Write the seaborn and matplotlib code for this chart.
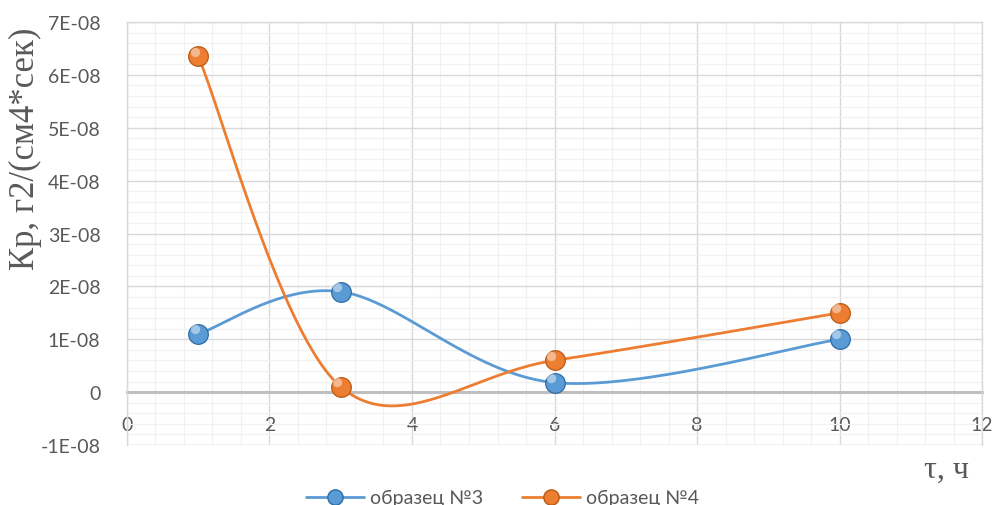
import numpy as np
import pandas as pd
import matplotlib
matplotlib.use("Agg")
import matplotlib.pyplot as plt
import seaborn as sns
from matplotlib.ticker import MultipleLocator, FuncFormatter
from matplotlib.lines import Line2D

# Measured data
hours = [1, 3, 6, 10]
sample3 = [1.1e-08, 1.9e-08, 0.18e-08, 1.0e-08]
sample4 = [6.35e-08, 0.1e-08, 0.6e-08, 1.5e-08]
series_names = ["образец №3", "образец №4"]
colors = ["#5B9BD5", "#ED7D31"]
dark_colors = ["#2E6DA4", "#B85A14"]


def smooth_curve(xs, ys, n=60):
    """Cubic Bezier smoothing through the points (Catmull-Rom style)."""
    P = np.column_stack([xs, ys]).astype(float)
    out = []
    for i in range(len(P) - 1):
        p0 = P[i - 1] if i > 0 else P[i]
        p1 = P[i]
        p2 = P[i + 1]
        p3 = P[i + 2] if i + 2 < len(P) else P[i + 1]
        c1 = p1 + (p2 - p0) / 6.0
        c2 = p2 - (p3 - p1) / 6.0
        t = np.linspace(0, 1, n)[:, None]
        seg = ((1 - t) ** 3) * p1 + 3 * ((1 - t) ** 2) * t * c1 + 3 * (1 - t) * t ** 2 * c2 + t ** 3 * p2
        out.append(seg if i == 0 else seg[1:])
    seg = np.vstack(out)
    return seg[:, 0], seg[:, 1]


sns.set_theme(style="white")
plt.rcParams["font.family"] = ["Lato", "DejaVu Sans"]

fig = plt.figure(figsize=(9.95, 5.06), dpi=100)
ax = fig.add_axes([0.1276, 0.1186, 0.8594, 0.8359])

for name, vals, col, dcol in zip(series_names, [sample3, sample4], colors, dark_colors):
    sx, sy = smooth_curve(hours, vals)
    curve = pd.DataFrame({"x": sx, "y": sy})
    sns.lineplot(data=curve, x="x", y="y", ax=ax, color=col, lw=2.0, sort=False,
                 estimator=None, zorder=3)
    pts = pd.DataFrame({"x": hours, "y": vals})
    sns.scatterplot(data=pts, x="x", y="y", ax=ax, s=200, color=col,
                    edgecolor=dcol, linewidth=0.9, zorder=4)
    # glossy highlight
    sns.scatterplot(data=pts, x=np.array(hours) - 0.05, y=np.array(vals) + 0.09e-08, ax=ax,
                    s=45, color="white", alpha=0.45, linewidth=0, zorder=5)

ax.set_xlim(0, 12)
ax.set_ylim(-1e-08, 7e-08)
ax.xaxis.set_major_locator(MultipleLocator(2))
ax.xaxis.set_minor_locator(MultipleLocator(0.4))
ax.yaxis.set_major_locator(MultipleLocator(1e-08))
ax.yaxis.set_minor_locator(MultipleLocator(0.2e-08))


def yfmt(v, pos):
    if abs(v) < 1e-12:
        return "0"
    return f"{v / 1e-08:.0f}E-08"


ax.yaxis.set_major_formatter(FuncFormatter(yfmt))
ax.grid(which="major", color="#d9d9d9", lw=1.0)
ax.grid(which="minor", color="#f1f1f1", lw=0.9)
ax.set_axisbelow(True)

for side in ["top", "right", "left"]:
    ax.spines[side].set_color("#d9d9d9")
    ax.spines[side].set_linewidth(1.0)
ax.spines["bottom"].set_position(("data", 0))
ax.spines["bottom"].set_color("#bfbfbf")
ax.spines["bottom"].set_linewidth(2.2)
ax.spines["bottom"].set_zorder(2)
# outer frame bottom edge
ax.axhline(-1e-08, color="#d9d9d9", lw=1.0, zorder=1)

ax.tick_params(axis="both", which="both", length=0, labelsize=14, labelcolor="#595959")
ax.tick_params(axis="y", pad=19)
ax.tick_params(axis="x", pad=17)
ax.set_xlabel("")
ax.set_ylabel("")

fig.text(0.026, 0.706, "Кр, г2/(см4*сек)", rotation=90, ha="center", va="center",
         fontsize=25, color="#595959", family=["Liberation Serif", "DejaVu Serif"])
fig.text(0.951, 0.071, "τ, ч", ha="center", va="center",
         fontsize=23, color="#595959", family=["Liberation Serif", "DejaVu Serif"])

handles = [Line2D([0], [0], color=c, lw=2, marker="o", markersize=11,
                  markerfacecolor=c, markeredgecolor=d) for c, d in zip(colors, dark_colors)]
leg = fig.legend(handles, series_names, loc="center", bbox_to_anchor=(0.505, 0.014), ncol=2,
                 frameon=False, fontsize=14, handlelength=3.0, columnspacing=2.0,
                 handletextpad=0.3)
for t in leg.get_texts():
    t.set_color("#595959")

fig.savefig("out.png", dpi=100)
